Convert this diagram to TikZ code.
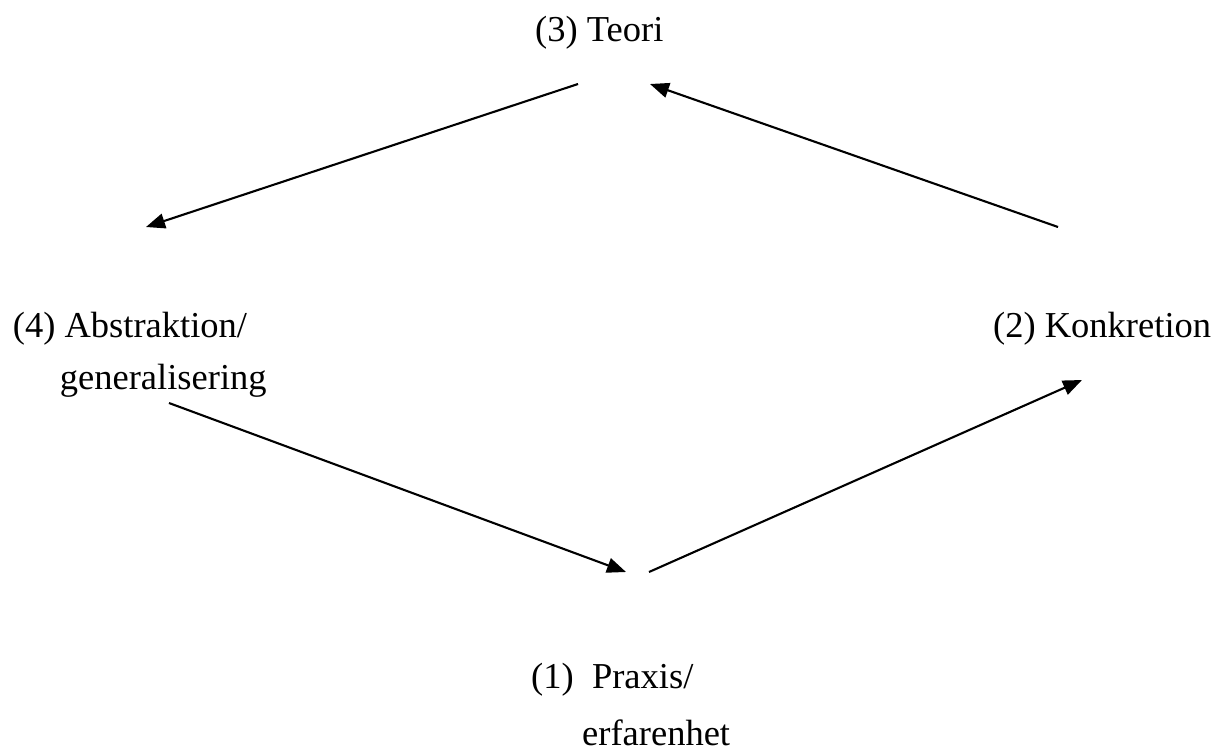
\documentclass[tikz,border=0pt]{standalone}
\usepackage{fontspec}
\setmainfont{Liberation Serif}
\usetikzlibrary{arrows.meta}
\begin{document}
\begin{tikzpicture}[x=1pt, y=-1pt,
        lbl/.style={anchor=base west, inner sep=0pt, align=left,
                font=\fontsize{36.5}{52}\selectfont},
        arrow/.style={-{Triangle[length=19pt, width=15pt]}, line width=2.1pt}
    ]
    \useasboundingbox (0,0) rectangle (1218,753);
    \node[lbl] (teori) at (535,41.7) {(3) Teori};
    \node[lbl] (konkr) at (993,337) {(2) Konkretion};
    % base of a two-line label is its last line
    \node[lbl] (abstr) at (12.7,389) {(4) Abstraktion/\\\hspace*{47pt}generalisering};
    \node[lbl] (praxis) at (531,745) {(1)~~Praxis/\\[5pt]\hspace*{51pt}erfarenhet};

    % free ends of the four arrows
    \coordinate (teori-out) at (578,84);
    \coordinate (teori-in) at (650,84);
    \coordinate (abstr-in) at (146,227);
    \coordinate (abstr-out) at (169,403);
    \coordinate (praxis-in) at (626,572);
    \coordinate (praxis-out) at (649,572);
    \coordinate (konkr-in) at (1082,380);
    \coordinate (konkr-out) at (1058,227);

    \draw[arrow] (teori-out) -- (abstr-in);
    \draw[arrow] (abstr-out) -- (praxis-in);
    \draw[arrow] (praxis-out) -- (konkr-in);
    \draw[arrow] (konkr-out) -- (teori-in);
\end{tikzpicture}
\end{document}
